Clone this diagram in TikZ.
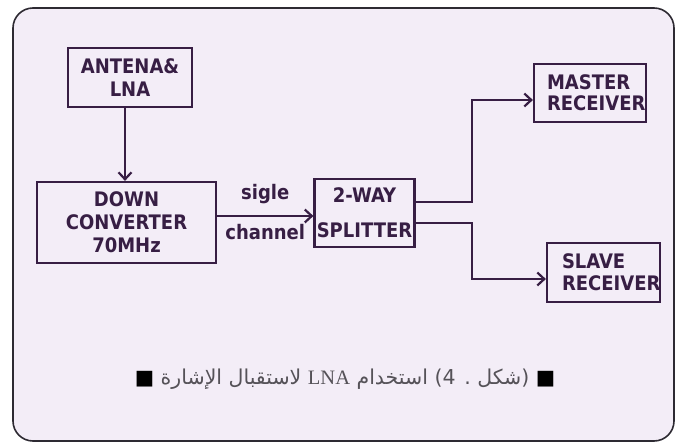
\documentclass[tikz,border=0pt]{standalone}
\usepackage{fontspec}
\setmainfont{Liberation Serif}
\newfontfamily\boxfont{DejaVu Sans Condensed}
\newfontfamily\arabicfont[Script=Arabic]{DejaVu Sans}
\TeXXeTstate=1
\usetikzlibrary{arrows.meta,positioning}
\definecolor{lavender}{RGB}{243,237,247}
\definecolor{inkpurple}{RGB}{55,30,68}
\definecolor{framegray}{RGB}{45,42,50}
\definecolor{markgray}{RGB}{85,82,88}
\tikzset{
  block/.style={rectangle, draw=inkpurple, line width=2.2pt, fill=lavender, text=inkpurple,
                align=center, inner sep=0pt, font=\boxfont\bfseries\fontsize{20}{23}\selectfont},
  blockleft/.style={block, align=left},
  arrow/.style={-{Straight Barb[length=7pt,width=13pt]}, line width=2.2pt, inkpurple},
  label/.style={font=\boxfont\bfseries\fontsize{20}{23}\selectfont, text=inkpurple, inner sep=1pt},
  caption/.style={font=\fontsize{20.5}{24}\selectfont, text=black!85},
}

\begin{document}
\begin{tikzpicture}[x=1pt, y=-1pt]
\useasboundingbox (0,0) rectangle (678,444);
\fill[white] (0,0) rectangle (678,444);
% frame
\draw[line width=1.6pt, draw=framegray, fill=lavender, rounded corners=20pt] (13,8) rectangle (674,441);

% left column
\node[block, minimum width=124pt, minimum height=59pt] (antena) at (130,77.5) {ANTENA\&\\LNA};
\node[block, minimum width=179pt, minimum height=81pt] (down) at (126.5,222.5) {DOWN\\CONVERTER\\70MHz};
\draw[arrow] ([xshift=-5pt]antena.south) -- ([xshift=-5pt]antena.south |- down.north);

% splitter
\node[block, minimum width=100pt, minimum height=68pt,
      font=\boxfont\bfseries\fontsize{20}{35}\selectfont] (split) at (364.5,213) {2-WAY\\SPLITTER};
\coordinate (feed) at ([yshift=-3pt]split.west);
\draw[arrow] (down.east |- feed) -- node[label, above=10pt] (sigle) {sigle}
                                  node[label, below=6pt] (chan) {channel} (feed);

% receivers
\node[blockleft, minimum width=112pt, minimum height=58pt, text width=86pt, inner xsep=13pt,
      font=\boxfont\bfseries\fontsize{20}{21}\selectfont] (master) at (590,93) {MASTER\\RECEIVER};
\node[blockleft, minimum width=113pt, minimum height=59pt, text width=83pt, inner xsep=15pt,
      font=\boxfont\bfseries\fontsize{20}{22}\selectfont] (slave) at (603.5,272.5) {SLAVE\\RECEIVER};
\draw[arrow] ([yshift=11pt]split.east) -- ++(56,0) |- ([yshift=-7pt]master.west);
\draw[arrow] ([yshift=-10pt]split.east) -- ++(56,0) |- ([yshift=-6.5pt]slave.west);

% caption
\node[caption] (title) at (345,379) {\arabicfont\beginR\textcolor{markgray}{■} (شكل . 4) استخدام \beginL{\rmfamily LNA}\endL{} لاستقبال الإشارة \textcolor{markgray}{■}\endR};
\end{tikzpicture}
\end{document}
